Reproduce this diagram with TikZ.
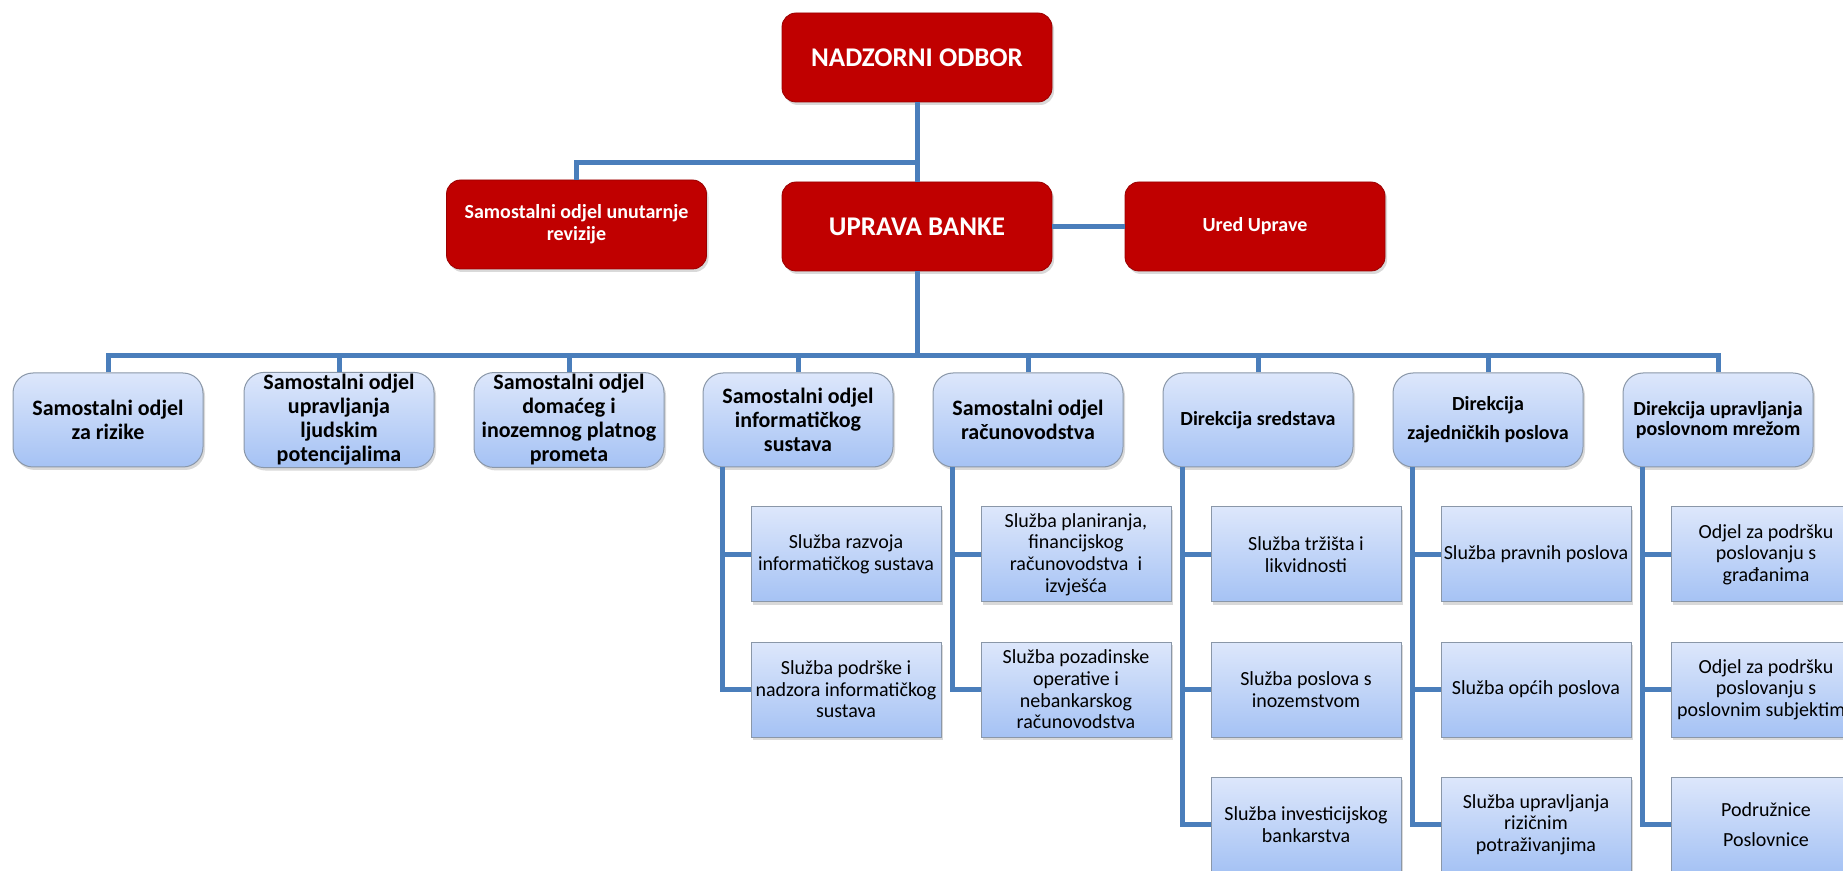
\documentclass[tikz,border=0pt]{standalone}
\usepackage{fontspec}
\setmainfont{Carlito}
\usetikzlibrary{shadows}

\definecolor{uprRed}{HTML}{C00000}
\definecolor{vezaBlue}{HTML}{4A7EBB}
\definecolor{boxTop}{HTML}{DDE7FB}
\definecolor{boxBot}{HTML}{A5C2F4}
\definecolor{boxEdge}{HTML}{8A97A8}

\tikzset{
	sjena/.style={drop shadow={shadow xshift=1pt, shadow yshift=-1.5pt, opacity=0.3}},
	redbox/.style={rectangle, rounded corners=7pt, fill=uprRed, draw=uprRed!80!black, line width=0.4pt,
		text=white, align=center, font=\fontsize{10}{11}\selectfont\bfseries,
		minimum width=130pt, minimum height=44.5pt, inner sep=2pt, sjena},
	bigred/.style={redbox, minimum width=135pt, font=\fontsize{13.5}{15}\selectfont\bfseries},
	odjel/.style={rectangle, rounded corners=10pt, top color=boxTop, bottom color=boxBot, draw=boxEdge, line width=0.5pt,
		align=center, font=\fontsize{11}{12}\selectfont\bfseries,
		minimum width=95pt, minimum height=47pt, inner sep=1pt, sjena},
	sluzba/.style={rectangle, top color=boxTop, bottom color=boxBot, draw=boxEdge, line width=0.5pt,
		align=center, font=\fontsize{10}{10.8}\selectfont,
		minimum width=95pt, minimum height=47.5pt, inner sep=1pt, sjena},
	veza/.style={draw=vezaBlue, line width=2.5pt}
}

\begin{document}
\begin{tikzpicture}[x=0.5pt, y=-0.5pt]
	\useasboundingbox (0,0) rectangle (1843,871);

	% uprava
	\node[bigred] (nadzor) at (917,57.5) {NADZORNI ODBOR};
	\node[redbox] (revizija) at (576.5,224.5) {Samostalni odjel unutarnje\\revizije};
	\node[bigred] (uprava) at (917,226.5) {UPRAVA BANKE};
	\node[redbox] (ured) at (1255,226.5) {Ured Uprave};

	\draw[veza] (nadzor.south) -- (uprava.north);
	\draw[veza] (nadzor.south) ++(0,60) -| (revizija.north);
	\draw[veza] (uprava.east) -- (ured.west);

	% odjeli i direkcije
	\node[odjel] (d1) at (108,420) {Samostalni odjel\\za rizike};
	\node[odjel] (d2) at (339,420) {Samostalni odjel\\upravljanja\\ljudskim\\potencijalima};
	\node[odjel] (d3) at (569,420) {Samostalni odjel\\domaćeg i\\inozemnog platnog\\prometa};
	\node[odjel] (d4) at (798,420) {Samostalni odjel\\informatičkog\\sustava};
	\node[odjel] (d5) at (1028,420) {Samostalni odjel\\računovodstva};
	\node[odjel, font=\fontsize{10}{11}\selectfont\bfseries] (d6) at (1258,420) {Direkcija sredstava};
	\node[odjel, font=\fontsize{10}{11}\selectfont\bfseries] (d7) at (1488,420) {Direkcija\\[3.5pt]zajedničkih poslova};
	\node[odjel, font=\fontsize{10}{10}\selectfont\bfseries] (d8) at (1718,420) {Direkcija upravljanja\\poslovnom mrežom};

	\draw[veza] (uprava.south) -- ++(0,84) coordinate (bus);
	\draw[veza] (d1.north) |- (bus) -| (d8.north);
	\foreach \i in {2,...,7}
		\draw[veza] (d\i.north) -- (d\i.north |- bus);

	% sluzbe
	\node[sluzba] (s4a) at (846,554.5) {Služba razvoja\\informatičkog sustava};
	\node[sluzba] (s4b) at (846,689.5) {Služba podrške i\\nadzora informatičkog\\sustava};

	\node[sluzba] (s5a) at (1076,554.5) {Služba planiranja,\\financijskog\\računovodstva~ i\\izvješća};
	\node[sluzba] (s5b) at (1076,689.5) {Služba pozadinske\\operative i\\nebankarskog\\računovodstva};

	\node[sluzba] (s6a) at (1306,554.5) {Služba tržišta i\\likvidnosti};
	\node[sluzba] (s6b) at (1306,689.5) {Služba poslova s\\inozemstvom};
	\node[sluzba] (s6c) at (1306,824.5) {Služba investicijskog\\bankarstva};

	\node[sluzba] (s7a) at (1536,554.5) {Služba pravnih poslova};
	\node[sluzba] (s7b) at (1536,689.5) {Služba općih poslova};
	\node[sluzba] (s7c) at (1536,824.5) {Služba upravljanja\\rizičnim\\potraživanjima};

	\node[sluzba] (s8a) at (1766,554.5) {Odjel za podršku\\poslovanju s\\građanima};
	\node[sluzba] (s8b) at (1766,689.5) {Odjel za podršku\\poslovanju s\\poslovnim subjektima};
	\node[sluzba] (s8c) at (1766,824.5) {Podružnice\\[4pt]Poslovnice};

	\foreach \d/\s in {4/s4a, 4/s4b, 5/s5a, 5/s5b, 6/s6a, 6/s6b, 6/s6c, 7/s7a, 7/s7b, 7/s7c, 8/s8a, 8/s8b, 8/s8c}
		\draw[veza] ([xshift=10pt]d\d.south west) |- (\s.west);
\end{tikzpicture}
\end{document}
